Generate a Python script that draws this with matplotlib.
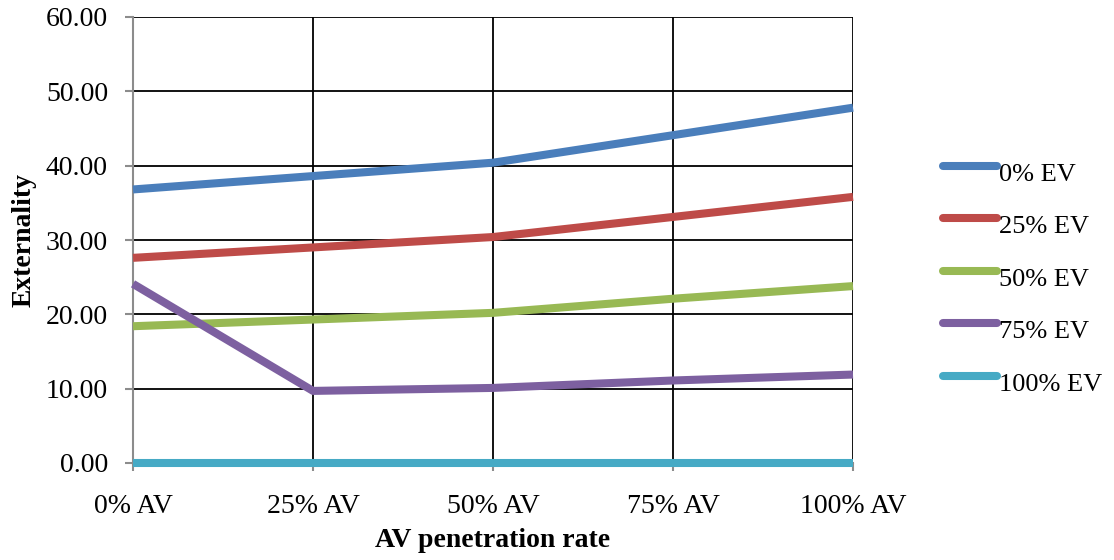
import matplotlib
matplotlib.use("Agg")
import matplotlib.pyplot as plt
from matplotlib.lines import Line2D

plt.rcParams['font.family'] = ['Liberation Serif', 'DejaVu Serif']

categories = ["0% AV", "25% AV", "50% AV", "75% AV", "100% AV"]
series_names = ["0% EV", "25% EV", "50% EV", "75% EV", "100% EV"]
ev_0 = [36.8, 38.6, 40.4, 44.1, 47.8]
ev_25 = [27.6, 29.0, 30.4, 33.1, 35.8]
ev_50 = [18.4, 19.3, 20.2, 22.1, 23.8]
ev_75 = [24.1, 9.7, 10.1, 11.1, 11.9]
ev_100 = [0.0, 0.0, 0.0, 0.0, 0.0]
y_ticks = [0, 10, 20, 30, 40, 50, 60]

colors = ["#4A7EBB", "#BE4B48", "#98B954", "#7D60A0", "#46AAC5"]
all_series = [ev_0, ev_25, ev_50, ev_75, ev_100]

W, H = 1114, 560
fig = plt.figure(figsize=(W / 100, H / 100), dpi=100)
ax = fig.add_axes([133 / W, 1 - 463 / H, 720 / W, 446 / H])

x = list(range(len(categories)))
for vals, c, name in zip(all_series, colors, series_names):
    ax.plot(x, vals, color=c, lw=5.8, solid_capstyle='butt',
            solid_joinstyle='round', label=name, zorder=3, clip_on=False)

ax.set_xlim(0, len(categories) - 1)
ax.set_ylim(0, 60)
ax.set_yticks(y_ticks)
ax.set_yticklabels([f"{v:.2f}" for v in y_ticks], fontsize=20)
ax.set_xticks(x)
ax.set_xticklabels(categories, fontsize=20)

ax.grid(True, color='black', lw=1.3, zorder=1)
for side in ['top', 'right']:
    ax.spines[side].set_visible(False)
for side in ['left', 'bottom']:
    ax.spines[side].set_color('#8c8c8c')
    ax.spines[side].set_linewidth(1.5)
ax.tick_params(axis='both', colors='#8c8c8c', labelcolor='black', length=6, width=1.5)
ax.tick_params(axis='x', pad=16)
ax.tick_params(axis='y', pad=12)

ax.set_xlabel("AV penetration rate", fontsize=20, fontweight='bold')
ax.set_ylabel("Externality", fontsize=20, fontweight='bold')
ax.xaxis.set_label_coords(0.5, (463 - 528) / 446)
ax.yaxis.set_label_coords((37 - 133) / 720, 0.5)

# Legend drawn by hand: line swatch with its label sitting slightly lower
leg_top = 166
leg_step = 52.4
for i, (c, name) in enumerate(zip(colors, series_names)):
    yc = 1 - (leg_top + i * leg_step) / H
    fig.add_artist(Line2D([943 / W, 997 / W], [yc, yc], transform=fig.transFigure,
                          color=c, lw=5.8, solid_capstyle='round'))
    fig.text(999 / W, yc - 9 / H, name, fontsize=19, ha='left', va='center')

fig.savefig("out.png", dpi=100)
